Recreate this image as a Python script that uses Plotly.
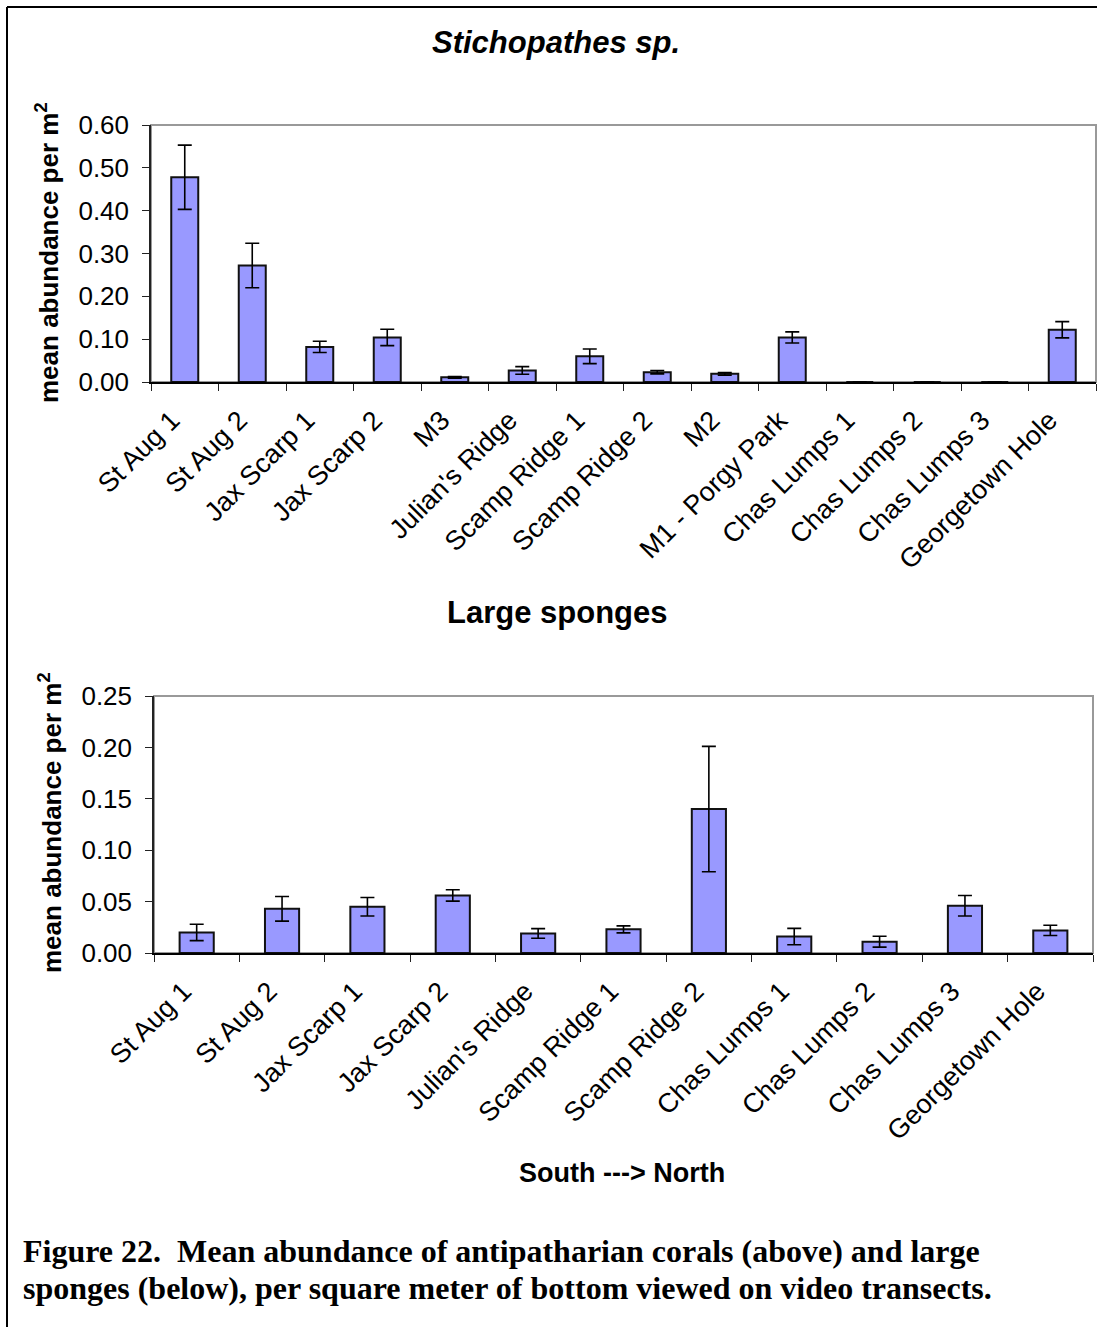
import plotly.graph_objects as go

W, H = 1097, 1327

# ---------------- data ----------------
sites_top = ["St Aug 1", "St Aug 2", "Jax Scarp 1", "Jax Scarp 2", "M3", "Julian's Ridge",
             "Scamp Ridge 1", "Scamp Ridge 2", "M2", "M1 - Porgy Park", "Chas Lumps 1",
             "Chas Lumps 2", "Chas Lumps 3", "Georgetown Hole"]
stich_mean = [0.478, 0.272, 0.082, 0.104, 0.011, 0.027, 0.060, 0.023, 0.019, 0.104,
              0.0, 0.0, 0.0, 0.122]
stich_err = [0.075, 0.052, 0.013, 0.019, 0.002, 0.009, 0.017, 0.004, 0.003, 0.013,
             0.0, 0.0, 0.0, 0.019]

sites_bot = ["St Aug 1", "St Aug 2", "Jax Scarp 1", "Jax Scarp 2", "Julian's Ridge",
             "Scamp Ridge 1", "Scamp Ridge 2", "Chas Lumps 1", "Chas Lumps 2",
             "Chas Lumps 3", "Georgetown Hole"]
sponge_mean = [0.020, 0.043, 0.045, 0.056, 0.019, 0.023, 0.140, 0.016, 0.011, 0.046, 0.022]
sponge_err = [0.008, 0.012, 0.009, 0.0055, 0.0047, 0.0034, 0.061, 0.008, 0.0053, 0.010, 0.005]

top_ticks = [0.0, 0.1, 0.2, 0.3, 0.4, 0.5, 0.6]
bot_ticks = [0.0, 0.05, 0.10, 0.15, 0.20, 0.25]

SANS = "Liberation Sans, Arial, sans-serif"
SERIF = "Liberation Serif, Times New Roman, serif"
BAR = "#9999FF"


def px_x(p):
    return p / W


def px_y(p):
    return 1 - p / H


fig = go.Figure()

fig.add_trace(go.Bar(
    x=sites_top, y=stich_mean, xaxis="x", yaxis="y",
    marker=dict(color=BAR, line=dict(color="#111111", width=2)),
    error_y=dict(type="data", array=stich_err, visible=True, color="black",
                 thickness=1.6, width=7),
    showlegend=False,
))
fig.add_trace(go.Bar(
    x=sites_bot, y=sponge_mean, xaxis="x2", yaxis="y2",
    marker=dict(color=BAR, line=dict(color="#111111", width=2)),
    error_y=dict(type="data", array=sponge_err, visible=True, color="black",
                 thickness=1.6, width=7),
    showlegend=False,
))

xcommon = dict(type="category", showgrid=False, showline=True, linecolor="black",
               linewidth=1.5, ticks="outside", tickson="boundaries", ticklen=7,
               tickcolor="#222222", tickwidth=1.2, tickangle=-45, automargin=False,
               ticklabelshift=-13, ticklabelstandoff=10,
               tickfont=dict(family=SANS, size=27, color="black"))
ycommon = dict(showgrid=False, showline=True, linecolor="#222222", linewidth=1.5,
               ticks="outside", ticklen=7, tickcolor="#222222", tickwidth=1.2,
               tickformat=".2f", zeroline=False, automargin=False,
               ticklabelstandoff=8,
               tickfont=dict(family=SANS, size=26, color="black"))

fig.update_layout(
    template="none",
    width=W, height=H,
    margin=dict(l=0, r=0, t=0, b=0, pad=0),
    paper_bgcolor="white", plot_bgcolor="white",
    bargap=0.6,
    xaxis=dict(domain=[px_x(151), px_x(1096)], anchor="y", **xcommon),
    yaxis=dict(domain=[px_y(382), px_y(125)], anchor="x", range=[0, 0.6],
               tickvals=top_ticks, **ycommon),
    xaxis2=dict(domain=[px_x(154), px_x(1093)], anchor="y2", **xcommon),
    yaxis2=dict(domain=[px_y(953), px_y(696)], anchor="x2", range=[0, 0.25],
                tickvals=bot_ticks, **ycommon),
)

# plot-area borders (grey top / right)
for xr, yr in (("x domain", "y domain"), ("x2 domain", "y2 domain")):
    fig.add_shape(type="rect", xref=xr, yref=yr, x0=0, x1=1, y0=0, y1=1,
                  line=dict(color="#999999", width=2), layer="below")

# page frame lines (top and left)
fig.add_shape(type="line", xref="paper", yref="paper", x0=px_x(7), x1=1, y0=px_y(7), y1=px_y(7),
              line=dict(color="black", width=2))
fig.add_shape(type="line", xref="paper", yref="paper", x0=px_x(7), x1=px_x(7), y0=px_y(7), y1=0,
              line=dict(color="black", width=2))

ann = []
ann.append(dict(text="<b><i>Stichopathes sp.</i></b>", x=px_x(556), y=px_y(42),
                font=dict(family=SANS, size=31, color="black")))
ann.append(dict(text="<b>Large sponges</b>", x=px_x(557), y=px_y(612),
                font=dict(family=SANS, size=31, color="black")))
ann.append(dict(text="<b>mean abundance per m<sup>2</sup></b>", x=px_x(48), y=px_y(253),
                textangle=-90, font=dict(family=SANS, size=26, color="black")))
ann.append(dict(text="<b>mean abundance per m<sup>2</sup></b>", x=px_x(50), y=px_y(823),
                textangle=-90, font=dict(family=SANS, size=26, color="black")))
ann.append(dict(text="<b>South ---> North</b>", x=px_x(622), y=px_y(1173),
                font=dict(family=SANS, size=27, color="black")))
ann.append(dict(text="<b>Figure 22.  Mean abundance of antipatharian corals (above) and large</b>",
                x=px_x(21), y=px_y(1251), xanchor="left",
                font=dict(family=SERIF, size=32, color="black")))
ann.append(dict(text="<b>sponges (below), per square meter of bottom viewed on video transects.</b>",
                x=px_x(21), y=px_y(1288), xanchor="left",
                font=dict(family=SERIF, size=32, color="black")))
for a in ann:
    a.setdefault("xanchor", "center")
    a.update(xref="paper", yref="paper", yanchor="middle", showarrow=False)
fig.update_layout(annotations=ann)

fig.write_html("out.html")
